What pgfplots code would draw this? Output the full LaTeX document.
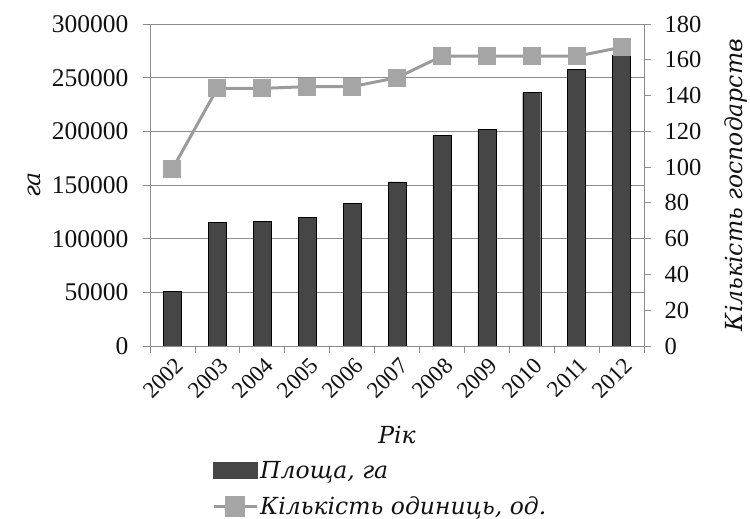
\documentclass[border=0pt]{standalone}
\usepackage{fontspec}
\setmainfont{Liberation Serif}
\newfontfamily\labfont{DejaVu Serif}
\usepackage{pgfplots}
\pgfplotsset{compat=1.18}
\definecolor{bardark}{HTML}{464646}
\definecolor{linegray}{HTML}{9B9B9B}
\definecolor{markgray}{HTML}{A5A5A5}
\definecolor{gridgray}{HTML}{8C8C8C}
\definecolor{txt}{HTML}{111111}
\newcommand\tickfont{\rmfamily\fontsize{25.5}{25.5}\selectfont}
\newcommand\rtickfont{\rmfamily\fontsize{24.5}{24.5}\selectfont}
\newcommand\xtickfont{\rmfamily\fontsize{23}{23}\selectfont}
\newcommand\labit{\labfont\itshape\fontsize{23.5}{23.5}\selectfont}

\begin{document}
\begin{tikzpicture}
\path[use as bounding box] (-150pt,-173pt) rectangle (600pt,346pt);
\begin{axis}[
  at={(0,0)}, anchor=south west,
  scale only axis, width=494pt, height=322pt,
  xmin=-0.5, xmax=10.5, ymin=0, ymax=300000,
  axis line style={gridgray, line width=0.8pt},
  xtick={0,...,10},
  xticklabels={2002,2003,2004,2005,2006,2007,2008,2009,2010,2011,2012},
  minor xtick={-0.5,0.5,...,10.5},
  major x tick style={draw=none},
  minor x tick style={gridgray, line width=0.8pt},
  y tick style={gridgray, line width=0.8pt},
  xtick pos=left, ytick pos=left,
  tick align=outside,
  major tick length=7pt, minor tick length=7pt,
  ytick={0,50000,...,300000},
  scaled y ticks=false,
  yticklabel style={/pgf/number format/fixed, /pgf/number format/1000 sep={}, font=\tickfont, text=txt, xshift=-11pt},
  /pgf/number format/assume math mode=true,
  xticklabel style={rotate=45, anchor=north east, font=\xtickfont, text=txt, inner sep=1pt, yshift=-2pt},
  ymajorgrids, grid style={gridgray, line width=0.8pt},
  xlabel={Рік}, ylabel={га},
  every axis x label/.style={at={(axis description cs:0.5,-0.276)}, anchor=center, font=\labit, text=txt},
  every axis y label/.style={at={(axis description cs:-0.233,0.5)}, rotate=90, anchor=center, font=\labit, text=txt},
]
\addplot[ybar, bar width=18pt, fill=bardark, draw=black, line width=0.4pt]
  coordinates {(0,51000) (1,115000) (2,116000) (3,120000) (4,133000) (5,153000)
               (6,196000) (7,202000) (8,236000) (9,258000) (10,271000)};
\end{axis}
\begin{axis}[
  at={(0,0)}, anchor=south west,
  scale only axis, width=494pt, height=322pt,
  xmin=-0.5, xmax=10.5, ymin=0, ymax=180,
  axis x line=none, axis y line*=right,
  y axis line style={gridgray, line width=0.8pt, -},
  y tick style={gridgray, line width=0.8pt},
  tick align=outside, major tick length=7pt,
  ytick={0,20,...,180},
  yticklabel style={font=\rtickfont, text=txt, xshift=10pt},
  /pgf/number format/assume math mode=true,
  ylabel={Кількість господарств},
  every axis y label/.style={at={(axis description cs:1.186,0.5)}, rotate=90, anchor=center, font=\labit, text=txt},
  legend style={at={(axis description cs:0.1255,-0.35)}, anchor=north west,
    draw=none, fill=none, font=\labit, text=txt, cells={anchor=west}, row sep=13pt, inner sep=0pt},
]
\addlegendimage{legend image code/.code={\fill[bardark] (0pt,-7.5pt) rectangle (43pt,8pt);}}
\addlegendentry{Площа, га}
\addplot[linegray, line width=3pt, mark=square*, mark size=8.5pt,
  mark options={fill=markgray, draw=markgray, line width=0pt},
  legend image code/.code={\draw[linegray, line width=3pt] (0pt,0pt) -- (43pt,0pt);
     \fill[markgray] (13pt,-9pt) rectangle (30pt,9pt);}]
  coordinates {(0,99) (1,144) (2,144) (3,145) (4,145) (5,150)
               (6,162) (7,162) (8,162) (9,162) (10,167)};
\addlegendentry{Кількість одиниць, од.}
\end{axis}
\end{tikzpicture}
\end{document}
